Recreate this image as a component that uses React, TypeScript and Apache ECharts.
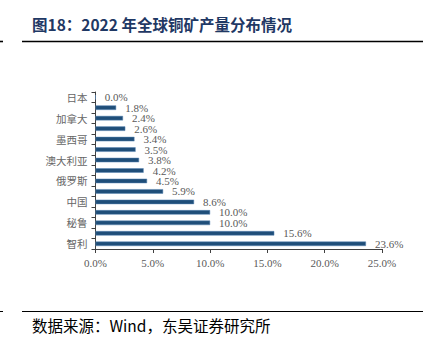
import React, { useEffect, useRef } from "react";
import * as echarts from "echarts";

const categories = [
  "智利", "其他", "秘鲁", "刚果（金）", "中国", "美国", "俄罗斯", "印尼",
  "澳大利亚", "赞比亚", "墨西哥", "哈萨克斯坦", "加拿大", "波兰", "日本",
];
const shares = [23.6, 15.6, 10.0, 10.0, 8.6, 5.9, 4.5, 4.2, 3.8, 3.5, 3.4, 2.6, 2.4, 1.8, 0.0];
const xTicks = { min: 0, max: 25, interval: 5 };
const titleText = "图18：2022 年全球铜矿产量分布情况";
const sourceText = "数据来源：Wind，东吴证券研究所";

export default function App() {
  const ref = useRef<HTMLDivElement>(null);
  useEffect(() => {
    if (!ref.current) return;
    const chart = echarts.init(ref.current, null, { renderer: "svg" });
    const serif = "'Liberation Serif', 'Times New Roman', serif";
    const cjk = "'Noto Sans CJK SC', sans-serif";
    chart.setOption({
      animation: false,
      backgroundColor: "#ffffff",
      grid: { left: 95.5, right: 51, top: 92, bottom: 106, containLabel: false },
      xAxis: {
        type: "value",
        min: xTicks.min,
        max: xTicks.max,
        interval: xTicks.interval,
        axisLine: { show: true, lineStyle: { color: "#404040", width: 1 } },
        axisTick: { show: true, length: 4, lineStyle: { color: "#404040" } },
        splitLine: { show: false },
        axisLabel: {
          formatter: (v: number) => v.toFixed(1) + "%",
          color: "#595959",
          fontFamily: serif,
          fontSize: 11,
          margin: 8,
        },
      },
      yAxis: {
        type: "category",
        data: categories,
        axisLine: { show: true, lineStyle: { color: "#404040", width: 1 } },
        axisTick: { show: true, length: 4, interval: 0, lineStyle: { color: "#404040" } },
        axisLabel: {
          interval: 1,
          color: "#666666",
          fontFamily: cjk,
          fontSize: 10.5,
          margin: 8,
        },
      },
      series: [
        {
          type: "bar",
          data: shares,
          barWidth: 4.5,
          itemStyle: { color: "#1F4E79", borderColor: "#5B87B5", borderWidth: 0.5 },
          label: {
            show: true,
            position: "right",
            distance: 9,
            formatter: (p: any) => Number(p.value).toFixed(1) + "%",
            color: "#595959",
            fontFamily: serif,
            fontSize: 11,
          },
        },
      ],
      graphic: [
        {
          type: "text",
          left: 32,
          top: 16,
          style: {
            text: titleText,
            fill: "#1F3864",
            font: "bold 15.5px 'Noto Sans CJK SC', sans-serif",
          },
        },
        {
          type: "line",
          shape: { x1: 22, y1: 41.5, x2: 423, y2: 41.5 },
          style: { stroke: "#000000", lineWidth: 1.6 },
        },
        {
          type: "line",
          shape: { x1: 0, y1: 41.5, x2: 3, y2: 41.5 },
          style: { stroke: "#000000", lineWidth: 1.6 },
        },
        {
          type: "line",
          shape: { x1: 22, y1: 311.5, x2: 423, y2: 311.5 },
          style: { stroke: "#000000", lineWidth: 1 },
        },
        {
          type: "line",
          shape: { x1: 0, y1: 311.5, x2: 3, y2: 311.5 },
          style: { stroke: "#000000", lineWidth: 1 },
        },
        {
          type: "text",
          left: 32,
          top: 317,
          style: {
            text: sourceText,
            fill: "#000000",
            font: "15.5px 'Noto Sans CJK SC', sans-serif",
          },
        },
      ],
    });
    return () => chart.dispose();
  }, []);
  return (
    <div
      ref={ref}
      style={{ position: "absolute", left: 0, top: 0, width: 433, height: 355 }}
    />
  );
}
